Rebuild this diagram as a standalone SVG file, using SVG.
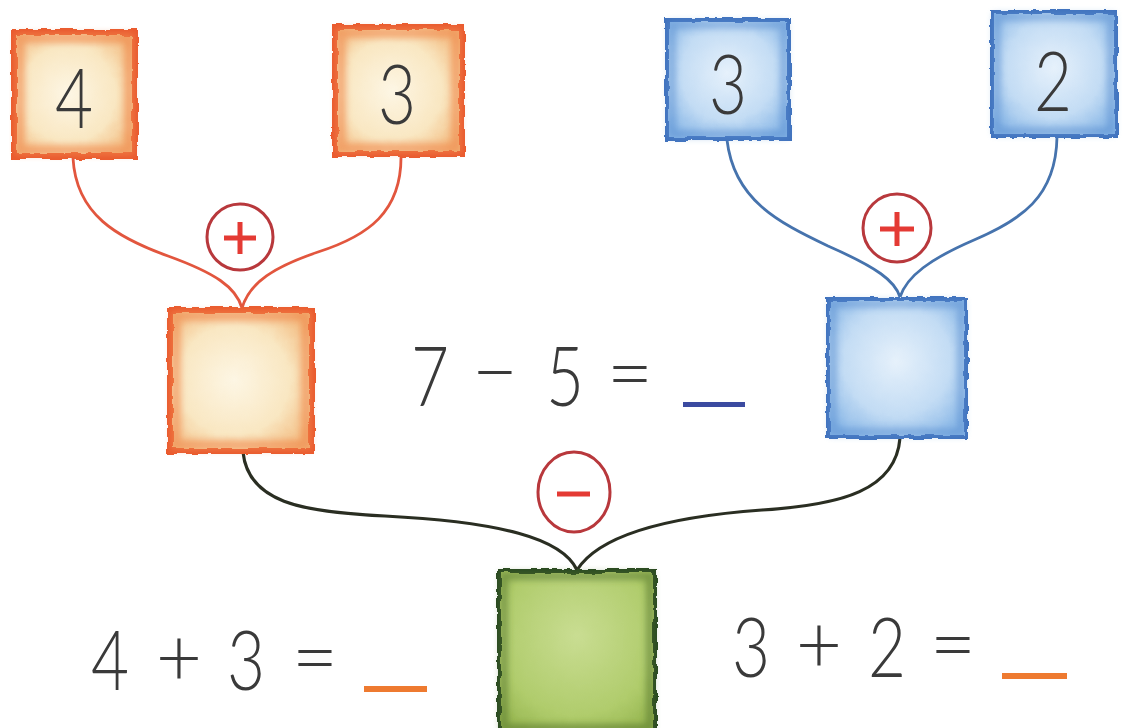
<svg xmlns="http://www.w3.org/2000/svg" width="1127" height="728" viewBox="0 0 1127 728">
<defs>
<filter id="rough" x="-5%" y="-5%" width="110%" height="110%">
<feTurbulence type="fractalNoise" baseFrequency="0.09" numOctaves="2" seed="3" result="n"/>
<feDisplacementMap in="SourceGraphic" in2="n" scale="5" xChannelSelector="R" yChannelSelector="G"/>
</filter>
<filter id="soft" x="-10%" y="-10%" width="120%" height="120%">
<feGaussianBlur stdDeviation="3"/>
</filter>
<radialGradient id="gOrange" cx="45%" cy="50%" r="65%">
<stop offset="0" stop-color="#fdf6e4"/>
<stop offset="0.6" stop-color="#f9e7c2"/>
<stop offset="1" stop-color="#f2b77a"/>
</radialGradient>
<radialGradient id="gBlue" cx="50%" cy="45%" r="65%">
<stop offset="0" stop-color="#e6f1fb"/>
<stop offset="0.6" stop-color="#c3dcf4"/>
<stop offset="1" stop-color="#86b5e6"/>
</radialGradient>
<radialGradient id="gGreen" cx="50%" cy="40%" r="70%">
<stop offset="0" stop-color="#c9dd92"/>
<stop offset="0.7" stop-color="#b0cc6c"/>
<stop offset="1" stop-color="#96b650"/>
</radialGradient>
</defs>
<style>
.orange{fill:url(#gOrange);stroke:#ea5a2e;stroke-width:6}
.blue{fill:url(#gBlue);stroke:#3f72bd;stroke-width:4}
.green{fill:url(#gGreen);stroke:#2c4a20;stroke-width:4}
.halo-o{fill:none;stroke:#f08a50;stroke-width:10;opacity:0.6}
.halo-b{fill:none;stroke:#5c8fd0;stroke-width:8;opacity:0.5}
.halo-g{fill:none;stroke:#4d6e2a;stroke-width:8;opacity:0.5}
.num{font-family:Lato,"Open Sans","Liberation Sans",sans-serif;font-weight:300;fill:#3a3a3a;text-anchor:middle;font-size:82px}
.opt{font-size:80px}
.op{fill:#fff;stroke:#b8383c;stroke-width:3}
.sign{stroke:#e43a34;stroke-width:5;stroke-linecap:butt}
.c-or{fill:none;stroke:#e2563e;stroke-width:2.8}
.c-bl{fill:none;stroke:#4673ad;stroke-width:2.8}
.c-bk{fill:none;stroke:#2a2e22;stroke-width:3.2}
</style>
<rect width="1127" height="728" fill="#fff"/>
<g id="connectors">
<path class="c-or" d="M73,158 C76,215 118,238 168,256 C215,273 236,287 242,308"/>
<path class="c-or" d="M401,155 C402,212 368,236 318,252 C274,267 250,282 242,308"/>
<path class="c-bl" d="M727,140 C734,200 778,222 828,246 C878,268 895,281 900,297"/>
<path class="c-bl" d="M1057,137 C1056,198 1020,220 974,240 C930,259 907,276 900,297"/>
<path class="c-bk" d="M243,452 C248,502 300,512 385,516 C500,522 562,538 577,570"/>
<path class="c-bk" d="M900,438 C896,490 842,505 762,510 C652,518 596,540 577,570"/>
</g>
<g id="box-4">
<rect class="orange" x="14" y="32" width="121" height="124" filter="url(#rough)"/>
<rect class="halo-o" x="20" y="38" width="109" height="112" filter="url(#soft)"/>
<text class="num" transform="translate(74,128) scale(0.8,1)">4</text>
</g>
<g id="box-3a">
<rect class="orange" x="335" y="27" width="127" height="127" filter="url(#rough)"/>
<rect class="halo-o" x="341" y="33" width="115" height="115" filter="url(#soft)"/>
<text class="num" transform="translate(397,124) scale(0.8,1)">3</text>
</g>
<g id="box-3b">
<rect class="blue" x="667" y="20" width="122" height="119" filter="url(#rough)"/>
<rect class="halo-b" x="672" y="25" width="112" height="109" filter="url(#soft)"/>
<text class="num" transform="translate(728,114) scale(0.8,1)">3</text>
</g>
<g id="box-2">
<rect class="blue" x="992" y="12" width="124" height="124" filter="url(#rough)"/>
<rect class="halo-b" x="997" y="17" width="114" height="114" filter="url(#soft)"/>
<text class="num" transform="translate(1053,111) scale(0.8,1)">2</text>
</g>
<g id="box-sum-left">
<rect class="orange" x="170" y="310" width="142" height="141" filter="url(#rough)"/>
<rect class="halo-o" x="176" y="316" width="130" height="129" filter="url(#soft)"/>
</g>
<g id="box-sum-right">
<rect class="blue" x="828" y="299" width="138" height="138" filter="url(#rough)"/>
<rect class="halo-b" x="833" y="304" width="128" height="128" filter="url(#soft)"/>
</g>
<g id="box-diff">
<rect class="green" x="499" y="571" width="156" height="162" filter="url(#rough)"/>
<rect class="halo-g" x="504" y="576" width="146" height="152" filter="url(#soft)"/>
</g>
<g id="op-plus-left">
<circle class="op" cx="240" cy="237" r="33"/>
<path class="sign" d="M224,238 H256 M240,222 V254"/>
</g>
<g id="op-plus-right">
<circle class="op" cx="897" cy="228" r="34"/>
<path class="sign" d="M880,229 H914 M897,212 V246"/>
</g>
<g id="op-minus">
<ellipse class="op" cx="574" cy="492" rx="36" ry="40"/>
<path class="sign" d="M557,494 H590"/>
</g>
<g id="eq-top">
<text class="num" transform="translate(430,406) scale(0.8,1)">7</text>
<text class="num opt" transform="translate(495,400)">−</text>
<text class="num" transform="translate(565,406) scale(0.8,1)">5</text>
<text class="num opt" transform="translate(630,402)">=</text>
<rect x="683" y="402" width="62" height="5" fill="#3b4aa0"/>
</g>
<g id="eq-left">
<text class="num" transform="translate(110,690) scale(0.8,1)">4</text>
<text class="num opt" transform="translate(179,686)">+</text>
<text class="num" transform="translate(246,690) scale(0.8,1)">3</text>
<text class="num opt" transform="translate(315,686)">=</text>
<rect x="364" y="686" width="63" height="6" fill="#ee7a30"/>
</g>
<g id="eq-right">
<text class="num" transform="translate(751,677) scale(0.8,1)">3</text>
<text class="num opt" transform="translate(819,673)">+</text>
<text class="num" transform="translate(887,677) scale(0.8,1)">2</text>
<text class="num opt" transform="translate(953,673)">=</text>
<rect x="1002" y="673" width="65" height="6" fill="#ee7a30"/>
</g>
</svg>
